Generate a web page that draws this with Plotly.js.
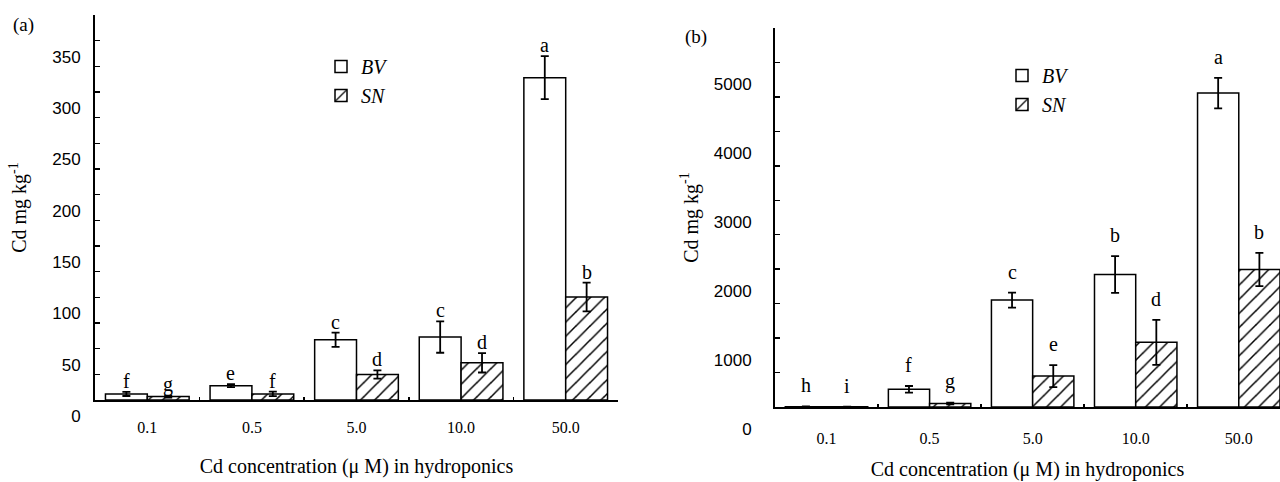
<!DOCTYPE html>
<html>
<head>
<meta charset="utf-8">
<script src="https://cdn.plot.ly/plotly-3.0.1.min.js"></script>
<style>
  html, body { margin: 0; padding: 0; background: #fff; }
  #chart { width: 1280px; height: 482px; }
</style>
</head>
<body>
<div id="chart"></div>
<script>
// ---- data ----
var categories = ['0.1', '0.5', '5.0', '10.0', '50.0'];
var seriesNames = ['BV', 'SN'];

// panel (a)
var aBV = [5.9, 14.0, 58.7, 61.3, 314];
var aBVerr = [2, 1.5, 7, 15.3, 21];
var aSN = [3.3, 5.9, 24.8, 36.2, 100.4];
var aSNerr = [1, 2.2, 4, 9.4, 14];
var aLettersBV = ['f', 'e', 'c', 'c', 'a'];
var aLettersSN = ['g', 'f', 'd', 'd', 'b'];

// panel (b)
var bBV = [5, 257, 1551, 1923, 4555];
var bBVerr = [3, 48, 109, 266, 222];
var bSN = [3, 50, 449, 938, 1995];
var bSNerr = [2, 12, 160, 326, 242];
var bLettersBV = ['h', 'f', 'c', 'b', 'a'];
var bLettersSN = ['i', 'g', 'e', 'd', 'b'];

var panelLabels = ['(a)', '(b)'];
var yTitle = 'Cd mg kg<sup>-1</sup>';
var xTitle = 'Cd concentration (\u03bc M) in hydroponics';

// ---- styles ----
var SERIF = '"Liberation Serif", "Times New Roman", Times, serif';
var SANS = '"Liberation Sans", Arial, Helvetica, sans-serif';
var W = 1280, H = 482;

function bvTrace(y, err, xa, ya, lg) {
  return {
    type: 'bar', name: seriesNames[0], x: categories, y: y,
    xaxis: xa, yaxis: ya, legend: lg,
    marker: { color: '#ffffff', line: { color: '#000', width: 1.5 } },
    error_y: { type: 'data', array: err, visible: true, color: '#000', thickness: 1.8, width: 4 }
  };
}
function snTrace(y, err, xa, ya, lg) {
  return {
    type: 'bar', name: seriesNames[1], x: categories, y: y,
    xaxis: xa, yaxis: ya, legend: lg,
    marker: { color: '#ffffff', line: { color: '#000', width: 1.5 },
      pattern: { shape: '/', fgcolor: '#000', bgcolor: '#ffffff', size: 10, solidity: 0.15 } },
    error_y: { type: 'data', array: err, visible: true, color: '#000', thickness: 1.8, width: 4 }
  };
}

var data = [
  bvTrace(aBV, aBVerr, 'x', 'y', 'legend'),
  snTrace(aSN, aSNerr, 'x', 'y', 'legend'),
  bvTrace(bBV, bBVerr, 'x2', 'y2', 'legend2'),
  snTrace(bSN, bSNerr, 'x2', 'y2', 'legend2')
];

function xAxis(domain, range, anchor, labelStandoff, standoff) {
  return {
    domain: domain, anchor: anchor, type: 'category', range: range,
    showline: true, linecolor: '#000', linewidth: 2, mirror: false,
    ticks: 'inside', tickson: 'boundaries', ticklen: 3, tickwidth: 1.5, tickcolor: '#000',
    ticklabelstandoff: labelStandoff,
    tickfont: { family: SERIF, size: 16, color: '#000' },
    showgrid: false, zeroline: false, fixedrange: true,
    title: { text: xTitle, font: { family: SERIF, size: 20, color: '#000' }, standoff: standoff }
  };
}
function yAxis(domain, range, anchor, dtick, minorDtick, shift, labelStandoff, titleStandoff) {
  return {
    domain: domain, anchor: anchor, range: range,
    showline: true, linecolor: '#000', linewidth: 2,
    ticks: 'inside', ticklen: 5, tickwidth: 1.5, tickcolor: '#000',
    dtick: dtick, tick0: 0,
    minor: { dtick: minorDtick, tick0: 0, ticks: 'inside', ticklen: 5, tickwidth: 1.5, tickcolor: '#000', showgrid: false },
    ticklabelshift: shift, ticklabelstandoff: labelStandoff,
    tickfont: { family: SANS, size: 17, color: '#000' },
    showgrid: false, zeroline: false, fixedrange: true,
    title: { text: yTitle, font: { family: SERIF, size: 20, color: '#000' }, standoff: titleStandoff }
  };
}

var annotations = [];
function addLetters(letters, vals, errs, xref, yref, dx, yshift) {
  for (var i = 0; i < letters.length; i++) {
    annotations.push({
      xref: xref, yref: yref, x: i + dx, y: vals[i] + errs[i],
      text: letters[i], showarrow: false, yanchor: 'bottom', xanchor: 'center',
      yshift: yshift, font: { family: SERIF, size: 20, color: '#000' }
    });
  }
}
addLetters(aLettersBV, aBV, aBVerr, 'x', 'y', -0.2, -2);
addLetters(aLettersSN, aSN, aSNerr, 'x', 'y', 0.2, -2);
addLetters(bLettersBV, bBV, bBVerr, 'x2', 'y2', -0.2, 8);
addLetters(bLettersSN, bSN, bSNerr, 'x2', 'y2', 0.2, 8);

annotations.push({ xref: 'paper', yref: 'paper', x: 23 / W, y: 1 - 25 / H, text: panelLabels[0],
  showarrow: false, xanchor: 'center', yanchor: 'middle', font: { family: SERIF, size: 19, color: '#000' } });
annotations.push({ xref: 'paper', yref: 'paper', x: 696 / W, y: 1 - 37 / H, text: panelLabels[1],
  showarrow: false, xanchor: 'center', yanchor: 'middle', font: { family: SERIF, size: 19, color: '#000' } });

var legendFont = { family: SERIF, size: 20, color: '#000', style: 'italic' };

var layout = {
  width: W, height: H,
  margin: { l: 0, r: 0, t: 0, b: 0 },
  paper_bgcolor: '#fff', plot_bgcolor: '#fff',
  barmode: 'group', bargap: 0.2, bargroupgap: 0,
  showlegend: true,
  xaxis: xAxis([95 / W, 618 / W], [-0.5, 4.5], 'y', 12, 24),
  yaxis: yAxis([1 - 400 / H, 1 - 15 / H], [0, 375], 'x', 50, 25, 16, 9, 20),
  xaxis2: xAxis([775 / W, 1], [-0.5, 4.4], 'y2', 16, 16),
  yaxis2: yAxis([1 - 407 / H, 1 - 28 / H], [0, 5500], 'x2', 1000, 500, 22, 18, 10),
  legend: { x: 321 / W, y: 1 - 47 / H, xanchor: 'left', yanchor: 'top', bgcolor: 'rgba(0,0,0,0)',
    borderwidth: 0, font: legendFont, itemwidth: 30, traceorder: 'normal' },
  legend2: { x: 1002 / W, y: 1 - 56 / H, xanchor: 'left', yanchor: 'top', bgcolor: 'rgba(0,0,0,0)',
    borderwidth: 0, font: legendFont, itemwidth: 30, traceorder: 'normal' },
  annotations: annotations
};

Plotly.newPlot('chart', data, layout, { staticPlot: true, displayModeBar: false });
</script>
</body>
</html>
